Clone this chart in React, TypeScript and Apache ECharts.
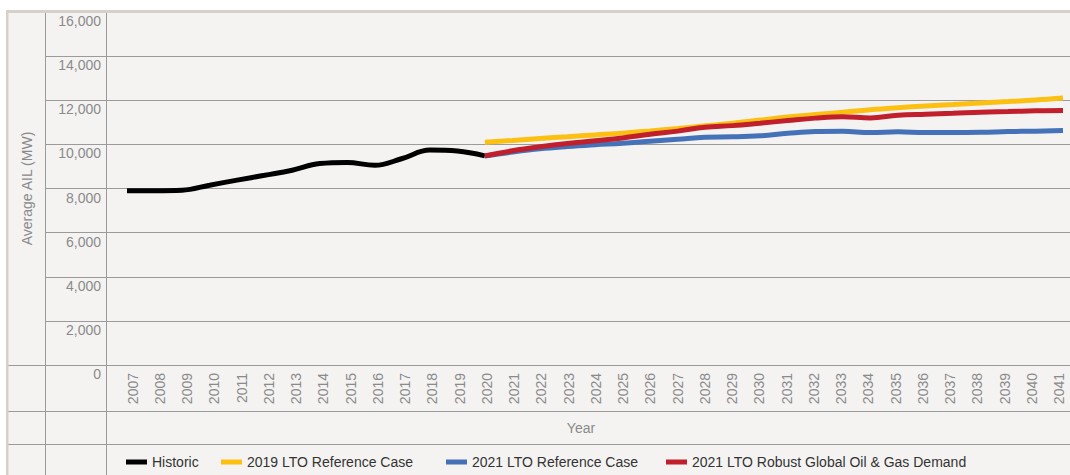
import React, { useEffect, useRef } from 'react';
import * as echarts from 'echarts';

const years = [
  '2007', '2008', '2009', '2010', '2011', '2012', '2013', '2014', '2015', '2016', '2017', '2018',
  '2019', '2020', '2021', '2022', '2023', '2024', '2025', '2026', '2027', '2028', '2029', '2030',
  '2031', '2032', '2033', '2034', '2035', '2036', '2037', '2038', '2039', '2040', '2041',
];

// 2007 - 2020
const historic = [7900, 7900, 7920, 8150, 8380, 8600, 8830, 9130, 9180, 9050, 9360, 9740, 9700, 9480];
// 2020 - 2041
const ref2019 = [10100, 10180, 10270, 10350, 10430, 10510, 10610, 10720, 10840, 10960, 11100, 11240, 11350, 11460, 11570, 11660, 11740, 11810, 11880, 11940, 12010, 12100];
const ref2021 = [9470, 9650, 9800, 9900, 9980, 10050, 10140, 10230, 10320, 10340, 10390, 10500, 10580, 10590, 10540, 10570, 10540, 10540, 10550, 10580, 10600, 10630];
const robust = [9480, 9710, 9890, 10040, 10160, 10290, 10460, 10600, 10780, 10850, 10960, 11080, 11190, 11250, 11200, 11320, 11370, 11410, 11460, 11490, 11520, 11540];

const seriesNames = ['Historic', '2019 LTO Reference Case', '2021 LTO Reference Case', '2021 LTO Robust Global Oil & Gas Demand'];
const seriesColors = ['#000000', '#fcc012', '#4571b9', '#c01f2b'];

const FONT = "'Liberation Sans', Arial, Helvetica, sans-serif";
const GRAY = '#8a8a8a';
const LINE = '#9b9b9b';

function padHistoric(arr: number[]) {
  const out: (number | null)[] = years.map(() => null);
  arr.forEach((v, i) => (out[i] = v));
  return out;
}
function padForecast(arr: number[]) {
  const out: (number | null)[] = years.map(() => null);
  const start = years.indexOf('2020');
  arr.forEach((v, i) => (out[start + i] = v));
  return out;
}

export default function App() {
  const ref = useRef<HTMLDivElement>(null);
  useEffect(() => {
    if (!ref.current) return;
    const chart = echarts.init(ref.current, undefined, { renderer: 'svg' });
    const dataSets = [padHistoric(historic), padForecast(ref2019), padForecast(ref2021), padForecast(robust)];
    const legendLefts = [126, 221, 446, 666];
    const option: any = {
      animation: false,
      backgroundColor: '#f4f3f2',
      grid: [
        { left: 45, right: 0, top: 12, bottom: 110 },
        { left: 127, right: 7, top: 12, bottom: 110 },
        { left: 132.5, right: 11, top: 12, bottom: 110 },
      ],
      xAxis: [
        { gridIndex: 0, type: 'value', min: 0, max: 1, show: false },
        { gridIndex: 1, type: 'category', data: years, boundaryGap: false, show: false },
        {
          gridIndex: 2, type: 'category', data: years, boundaryGap: false,
          axisLine: { show: false }, axisTick: { show: false },
          axisLabel: { rotate: 90, margin: 8, interval: 0, color: GRAY, fontSize: 14, fontFamily: FONT },
        },
      ],
      yAxis: [
        {
          gridIndex: 0, type: 'value', min: 0, max: 16000, interval: 2000,
          axisLine: { show: false }, axisTick: { show: false },
          splitLine: { show: true, lineStyle: { color: LINE, width: 1 } },
          axisLabel: {
            inside: true, margin: 56, align: 'right', verticalAlign: 'top', padding: [2, 0, 0, 0],
            color: GRAY, fontSize: 14, fontFamily: FONT,
            formatter: (v: number) => v.toLocaleString('en-US'),
          },
          name: 'Average AIL (MW)', nameLocation: 'middle', nameGap: 11,
          nameTextStyle: { color: GRAY, fontSize: 14, fontFamily: FONT },
        },
        { gridIndex: 1, type: 'value', min: 0, max: 16000, show: false },
        { gridIndex: 2, type: 'value', min: 0, max: 16000, show: false },
      ],
      legend: seriesNames.map((n, i) => ({
        data: [n], left: legendLefts[i], top: 455, padding: 0, itemGap: 0,
        itemWidth: 21, itemHeight: 5, icon: 'rect', selectedMode: false,
        textStyle: { color: '#333', fontSize: 14, fontFamily: FONT },
      })),
      series: seriesNames.map((n, i) => ({
        name: n, type: 'line', xAxisIndex: 1, yAxisIndex: 1,
        data: dataSets[i], showSymbol: false, smooth: 0.4,
        color: seriesColors[i], itemStyle: { color: seriesColors[i] },
        lineStyle: { color: seriesColors[i], width: 5 },
      })),
      graphic: [
        { type: 'line', z: 50, shape: { x1: 45.5, y1: 13, x2: 45.5, y2: 475 }, style: { stroke: LINE, lineWidth: 1 } },
        { type: 'line', z: 50, shape: { x1: 106.5, y1: 13, x2: 106.5, y2: 475 }, style: { stroke: LINE, lineWidth: 1 } },
        { type: 'line', z: 50, shape: { x1: 8, y1: 365.5, x2: 45, y2: 365.5 }, style: { stroke: LINE, lineWidth: 1 } },
        { type: 'line', z: 50, shape: { x1: 8, y1: 411.5, x2: 1070, y2: 411.5 }, style: { stroke: LINE, lineWidth: 1 } },
        { type: 'line', z: 50, shape: { x1: 8, y1: 444.5, x2: 1070, y2: 444.5 }, style: { stroke: LINE, lineWidth: 1 } },
        { type: 'rect', z: 100, shape: { x: 0, y: 0, width: 1070, height: 10 }, style: { fill: '#ffffff' } },
        { type: 'rect', z: 100, shape: { x: 0, y: 0, width: 6, height: 475 }, style: { fill: '#ffffff' } },
        { type: 'rect', z: 100, shape: { x: 6, y: 10, width: 1064, height: 3 }, style: { fill: '#d8cfc8' } },
        { type: 'rect', z: 100, shape: { x: 6, y: 10, width: 2.5, height: 465 }, style: { fill: '#d8cfc8' } },
        {
          type: 'text', z: 50, x: 581, y: 428,
          style: {
            text: 'Year', fill: GRAY, font: `14px ${FONT}`,
            align: 'center', verticalAlign: 'middle', textAlign: 'center', textVerticalAlign: 'middle',
          },
        },
      ],
    };
    chart.setOption(option);
    return () => chart.dispose();
  }, []);
  return <div ref={ref} style={{ position: 'absolute', left: 0, top: 0, width: 1070, height: 475 }} />;
}
